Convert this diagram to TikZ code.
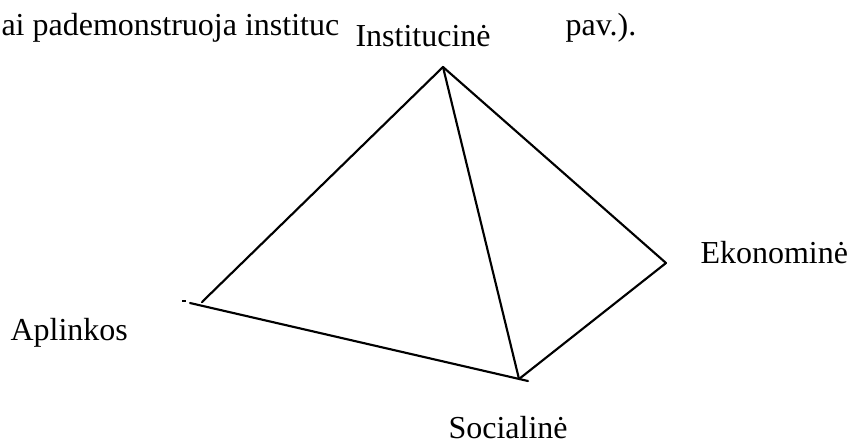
\documentclass[tikz,border=0pt]{standalone}
\usepackage{fontspec}
\setmainfont{Liberation Serif}
\usepackage{tikz}
\usetikzlibrary{positioning,backgrounds}
\pgfdeclarelayer{edgelayer}
\pgfdeclarelayer{nodelayer}
\pgfsetlayers{background,edgelayer,nodelayer,main}
\tikzstyle{none}=[inner sep=0mm]
\tikzstyle{lbl}=[inner sep=0mm,anchor=base west,font=\fontsize{12}{14}\selectfont]
\tikzstyle{side}=[line width=0.8pt,line cap=round]
\begin{document}
\begin{tikzpicture}[x=0.375pt,y=-0.375pt]
	\useasboundingbox (0,0) rectangle (851,441);
	\begin{pgfonlayer}{nodelayer}
		\node [style=none] (0) at (443, 67) {};
		\node [style=none] (1) at (202, 302) {};
		\node [style=none] (2) at (190, 303) {};
		\node [style=none] (3) at (519, 379) {};
		\node [style=none] (4) at (528, 381) {};
		\node [style=none] (5) at (666, 263) {};
		\node [style=none] (6) at (182, 301) {};
		\node [style=none] (7) at (186, 301) {};
		\node [style=lbl] (10) at (1, 35) {ai pademonstruoja instituc};
		\node [style=lbl] (11) at (565, 35) {pav.).};
		\node [style=lbl] (12) at (355, 46) {Institucinė};
		\node [style=lbl] (13) at (700, 263) {Ekonominė};
		\node [style=lbl] (14) at (10, 340) {Aplinkos};
		\node [style=lbl] (15) at (448, 438) {Socialinė};
	\end{pgfonlayer}
	\begin{pgfonlayer}{edgelayer}
		\draw [style=side] (1.center) to (0.center);
		\draw [style=side] (0.center) to (3.center);
		\draw [style=side] (0.center) to (5.center);
		\draw [style=side] (5.center) to (3.center);
		\draw [style=side] (2.center) to (4.center);
		\draw [line width=0.4pt] (6.center) to (7.center);
	\end{pgfonlayer}
\end{tikzpicture}
\end{document}
